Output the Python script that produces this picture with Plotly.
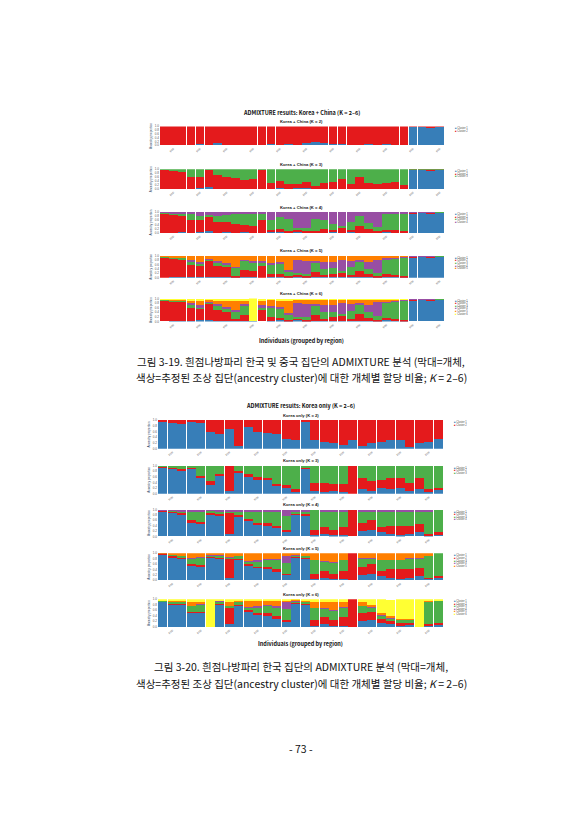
import plotly.graph_objects as go

W, H = 587, 830

# colours (bottom -> top stacking order)
cols = {'blue': '#377EB8', 'red': '#E41A1C', 'green': '#4DAF4A',
        'purple': '#984EA3', 'orange': '#FF7F00', 'yellow': '#FFFF33'}

# ---------- Korea + China (32 individuals shown, last 4 = China) ----------
kc_blue2 = [.02,.03,.02,.02,.05,.03,.1,.04,.02,.03,.02,.03,.05,.02,.08,.03,.1,.2,.12,.08,.05,.03,.04,.06,.03,.05,.02,.04,.95,.97,.93,.96]
kc_red2 = [.98,.97,.98,.98,.95,.97,.9,.96,.98,.97,.98,.97,.95,.98,.92,.97,.9,.8,.88,.92,.95,.97,.96,.94,.97,.95,.98,.96,.05,.03,.07,.04]

kc_blue3 = [0,.02,.03,.02,.05,.1,.02,.03,.02,.03,.02,0,.03,.05,.02,.08,.05,.03,.02,.03,.02,.03,.02,.02,.03,.02,.02,.02,.95,.96,.92,.97]
kc_red3 = [.95,.9,.85,.6,.55,.85,.7,.6,.55,.45,.5,.95,.3,.35,.25,.2,.3,.15,.3,.35,.5,.25,.6,.3,.25,.3,.35,.2,.03,.02,.05,.02]
kc_green3 = [.05,.08,.12,.38,.4,.05,.28,.37,.43,.52,.48,.05,.67,.6,.73,.72,.65,.82,.68,.62,.48,.72,.38,.68,.72,.68,.63,.78,.02,.02,.03,.01]

kc_blue4 = [0,.02,.03,.02,.05,.08,.02,.03,.02,.03,.02,0,.03,.05,.02,.05,.03,.03,.02,.03,.02,.03,.02,.02,.03,.05,.02,.02,.95,.96,.92,.97]
kc_red4 = [.95,.85,.8,.6,.55,.7,.5,.5,.4,.35,.3,.6,.1,.15,.05,.1,.05,.05,.15,.1,.2,.1,.3,.15,.05,.1,.1,.05,.02,.02,.04,.02]
kc_green4 = [.03,.05,.1,.3,.2,.1,.3,.35,.5,.55,.6,.3,.5,.55,.6,.1,.15,.6,.45,.3,.1,.4,.5,.3,.2,.75,.8,.85,.02,.01,.02,.01]
kc_purple4 = [.02,.08,.07,.08,.2,.12,.18,.12,.08,.07,.08,.1,.37,.25,.33,.75,.77,.32,.38,.57,.68,.47,.18,.53,.72,.1,.08,.08,.01,.01,.02,0]

kc_blue5 = [0,.02,.03,.02,.05,.05,.02,.03,.02,.03,.02,0,.03,.05,.02,.05,.03,.03,.02,.03,.02,.03,.02,.02,.03,.05,.02,.02,.95,.96,.92,.97]
kc_red5 = [.95,.85,.8,.55,.5,.7,.5,.45,.05,.3,.3,.55,.15,.1,.05,.1,.05,.25,.1,.15,.2,.1,.3,.15,.05,.1,.1,.05,.02,.02,.04,.02]
kc_green5 = [.03,.05,.1,.2,.1,.1,.2,.15,.4,.45,.4,.15,.4,.5,.2,.05,.1,.4,.3,.25,.1,.35,.4,.25,.15,.65,.75,.85,.02,.01,.02,.01]
kc_purple5 = [0,.02,0,.03,.05,.02,.05,.05,.03,.02,.05,.05,.1,.05,.1,.6,.6,.1,.3,.3,.5,.3,.1,.3,.6,.1,.05,.05,.01,.01,.02,0]
kc_orange5 = [.02,.06,.07,.2,.3,.13,.23,.32,.5,.2,.23,.25,.32,.3,.63,.2,.22,.22,.28,.27,.18,.22,.18,.28,.17,.1,.08,.03,0,0,0,0]

kc_blue6 = [0,.02,.03,.02,.05,.05,.02,.03,.02,.03,.02,0,.03,.05,.02,.05,.03,.03,.02,.03,.02,.03,.02,.02,.03,.05,.02,.02,.95,.96,.92,.97]
kc_red6 = [.95,.85,.8,.55,.5,.7,.5,.4,.1,.25,0,.5,.15,.1,.05,.1,.05,.25,.1,.15,.2,.1,.3,.15,.05,.1,.1,.05,.02,.02,.04,.02]
kc_green6 = [.02,.05,.1,.2,.1,.1,.2,.15,.35,.45,0,.15,.4,.45,.2,.05,.1,.4,.3,.25,.1,.35,.4,.25,.15,.65,.75,.85,.02,.01,.02,.01]
kc_purple6 = [0,.02,0,.03,.05,.02,.05,.05,.03,.02,0,.05,.1,.05,.1,.6,.6,.1,.3,.3,.5,.3,.1,.3,.6,.1,.05,.05,.01,.01,.02,0]
kc_orange6 = [.02,.04,.05,.15,.25,.1,.18,.3,.45,.15,0,.22,.28,.3,.58,.18,.2,.2,.26,.25,.16,.2,.16,.26,.15,.08,.06,.02,0,0,0,0]
kc_yellow6 = [.01,.02,.02,.05,.05,.03,.05,.07,.05,.1,1,.08,.04,.05,.05,.02,.02,.02,.02,.02,.02,.02,.02,.02,.02,.02,.02,.01,0,0,0,0]

# ---------- Korea only (30 individuals shown) ----------
k_blue2 = [.95,.9,.85,.95,.9,.6,.5,.7,.1,.75,.6,.55,.5,.35,.3,.92,.3,.25,.2,.15,.3,.1,.2,.25,.3,.3,.05,.2,.25,.35]
k_red2 = [.05,.1,.15,.05,.1,.4,.5,.3,.9,.25,.4,.45,.5,.65,.7,.08,.7,.75,.8,.85,.7,.9,.8,.75,.7,.7,.95,.8,.75,.65]

k_blue3 = [.95,.9,.85,.9,.6,.3,.65,.1,.75,.6,.5,.5,.3,.2,.1,.9,.1,.05,.1,.05,0,.15,.1,.2,.15,.2,.1,.15,.05,.15]
k_red3 = [.02,.05,.05,.05,.05,.15,.05,.9,.05,.1,.1,.05,.05,.1,.05,.02,.3,.35,.25,.3,1,.4,.35,.3,.4,.35,.3,.4,.1,.05]
k_green3 = [.03,.05,.1,.05,.35,.55,.3,0,.2,.3,.4,.45,.65,.7,.85,.08,.6,.6,.65,.65,0,.45,.55,.5,.45,.45,.6,.45,.85,.8]

k_blue4 = [.95,.9,.85,.55,.5,.85,.8,.1,.75,.6,.45,.4,.3,.2,.85,.8,.05,.1,.05,.05,0,.2,.25,.15,.1,.05,.1,.15,.05,.1]
k_red4 = [.02,.05,.05,.05,.05,.02,.05,.8,.05,.05,.05,.1,.1,.05,.02,.05,.2,.25,.2,.3,1,.3,.35,.2,.3,.35,.3,.3,.05,.05]
k_green4 = [.02,.03,.05,.35,.4,.1,.1,.05,.15,.3,.45,.45,.55,.5,.03,.1,.75,.6,.7,.6,0,.45,.35,.6,.55,.55,.55,.5,.85,.85]
k_purple4 = [.01,.02,.05,.05,.05,.03,.05,.05,.05,.05,.05,.05,.05,.25,.1,.05,0,.05,.05,.05,0,.05,.05,.05,.05,.05,.05,.05,.05,0]

k_blue5 = [.95,.85,.8,.55,.5,.85,.8,.1,.75,.55,.45,.4,.3,.2,.85,.8,.05,.1,.05,.05,0,.2,.25,.15,.1,.05,.1,.15,.05,.1]
k_red5 = [.02,.05,.05,.05,.05,.02,.05,.7,.05,.05,.05,.1,.1,.05,.02,.05,.2,.25,.2,.3,1,.3,.35,.2,.3,.35,.3,.3,.05,.05]
k_green5 = [.01,.05,.05,.2,.3,.05,.05,.05,.1,.1,.2,.25,.35,.4,.03,.05,.5,.35,.4,.4,0,.3,.2,.4,.35,.35,.4,.35,.8,.85]
k_purple5 = [.01,.01,.02,.02,.02,.02,.03,.02,.02,.02,.05,.05,.05,.25,.05,.02,0,.02,.02,.02,0,.02,.02,.02,.02,.02,.02,.02,.02,0]
k_orange5 = [.01,.04,.08,.18,.13,.06,.07,.13,.08,.28,.25,.2,.2,.1,.05,.08,.25,.28,.33,.23,0,.18,.18,.23,.23,.23,.18,.18,.08,0]

k_blue6 = [.9,.8,.8,.5,.5,0,.8,.1,.75,.55,.45,.4,.3,.2,.85,.8,.05,.1,.05,.05,0,.2,.25,.15,.1,.05,.1,0,.05,.1]
k_red6 = [.02,.05,.05,.05,.05,0,.05,.6,.05,.05,.05,.1,.1,.05,.02,.05,.2,.25,.2,.3,1,.3,.3,.15,.1,.1,.05,0,.05,.05]
k_green6 = [.01,.05,.05,.2,.25,0,.05,.05,.1,.1,.2,.25,.3,.4,.03,.05,.45,.3,.35,.35,0,.25,.15,.1,.1,.1,.1,0,.8,.8]
k_purple6 = [.01,.01,.02,.02,.02,0,.03,.02,.02,.02,.05,.05,.05,.25,.05,.02,0,.02,.02,.02,0,.02,.02,.02,.02,.02,.02,0,.02,0]
k_orange6 = [.01,.04,.03,.13,.08,0,.02,.13,.03,.23,.2,.15,.2,.05,.02,.03,.2,.23,.28,.18,0,.13,.08,.08,.06,.03,.03,0,.04,0]
k_yellow6 = [.05,.05,.05,.1,.1,1,.05,.1,.05,.05,.05,.05,.05,.05,.03,.05,.1,.1,.1,.1,0,.1,.2,.5,.6,.7,.7,1,.04,.05]

fig = go.Figure()

panels = [
    # (title, y_top_px, y_bot_px, x0_px, x1_px, [(colour, values), ...])
    ('Korea + China (K = 2)', 117, 136, 152, 436, [('blue', kc_blue2), ('red', kc_red2)]),
    ('Korea + China (K = 3)', 160, 180, 152, 436, [('blue', kc_blue3), ('red', kc_red3), ('green', kc_green3)]),
    ('Korea + China (K = 4)', 203, 224, 152, 436, [('blue', kc_blue4), ('red', kc_red4), ('green', kc_green4), ('purple', kc_purple4)]),
    ('Korea + China (K = 5)', 247, 269, 152, 436, [('blue', kc_blue5), ('red', kc_red5), ('green', kc_green5), ('purple', kc_purple5), ('orange', kc_orange5)]),
    ('Korea + China (K = 6)', 290, 313, 152, 436, [('blue', kc_blue6), ('red', kc_red6), ('green', kc_green6), ('purple', kc_purple6), ('orange', kc_orange6), ('yellow', kc_yellow6)]),
    ('Korea only (K = 2)', 412, 441, 150, 435, [('blue', k_blue2), ('red', k_red2)]),
    ('Korea only (K = 3)', 458, 486, 150, 435, [('blue', k_blue3), ('red', k_red3), ('green', k_green3)]),
    ('Korea only (K = 4)', 502, 529, 150, 435, [('blue', k_blue4), ('red', k_red4), ('green', k_green4), ('purple', k_purple4)]),
    ('Korea only (K = 5)', 546, 573, 150, 435, [('blue', k_blue5), ('red', k_red5), ('green', k_green5), ('purple', k_purple5), ('orange', k_orange5)]),
    ('Korea only (K = 6)', 592, 620, 150, 435, [('blue', k_blue6), ('red', k_red6), ('green', k_green6), ('purple', k_purple6), ('orange', k_orange6), ('yellow', k_yellow6)]),
]

px_x = lambda v: v / W
px_y = lambda v: 1 - v / H

anns = []
layout = {}
for i, (title, yt, yb, x0, x1, comps) in enumerate(panels):
    n = i + 1
    xa = 'x' if n == 1 else f'x{n}'
    ya = 'y' if n == 1 else f'y{n}'
    xs = list(range(len(comps[0][1])))
    for cname, vals in comps:
        fig.add_trace(go.Bar(x=xs, y=vals, marker=dict(color=cols[cname], line=dict(width=0)),
                             xaxis=xa, yaxis=ya, showlegend=False))
    layout['xaxis' if n == 1 else f'xaxis{n}'] = dict(
        domain=[px_x(x0), px_x(x1)], anchor=ya, range=[-0.5, len(xs) - 0.5],
        tickvals=xs[1::3], ticktext=['pop'] * len(xs[1::3]), tickangle=-40,
        tickfont=dict(size=3, color='#555'), showgrid=False, zeroline=False, ticks='')
    layout['yaxis' if n == 1 else f'yaxis{n}'] = dict(
        domain=[px_y(yb), px_y(yt)], anchor=xa, range=[0, 1],
        tickvals=[0, .2, .4, .6, .8, 1], ticktext=['0.0', '0.2', '0.4', '0.6', '0.8', '1.0'],
        tickfont=dict(size=3, color='#555'), showgrid=False, zeroline=False,
        title=dict(text='Ancestry proportion', font=dict(size=3), standoff=2))
    anns.append(dict(text=f'<b>{title}</b>', x=px_x((x0 + x1) / 2), y=px_y(yt - 0.5), xref='paper', yref='paper',
                     xanchor='center', yanchor='bottom', showarrow=False, font=dict(size=4.2, color='#222')))
    # small legend to the right
    for j, (cname, _) in enumerate(comps):
        anns.append(dict(text=f'<span style="color:{cols[cname]}">■</span> Cluster {j + 1}',
                         x=px_x(x1 + 9), y=px_y(yt + 2 + j * 2.6), xref='paper', yref='paper',
                         xanchor='left', yanchor='middle', showarrow=False, font=dict(size=2.6, color='#444')))

texts = [
    ('<b>ADMIXTURE results: Korea + China (K = 2–6)</b>', 294, 103, 5.5),
    ('<b>Individuals (grouped by region)</b>', 294, 333, 5.5),
    ('<b>ADMIXTURE results: Korea only (K = 2–6)</b>', 292, 398, 5.5),
    ('<b>Individuals (grouped by region)</b>', 292, 637, 5.5),
    ('그림 3-19. 흰점나방파리 한국 및 중국 집단의 ADMIXTURE 분석 (막대=개체,', 293, 353, 10.5),
    ('색상=추정된 조상 집단(ancestry cluster)에 대한 개체별 할당 비율; <i>K</i> = 2–6)', 293, 369, 10.5),
    ('그림 3-20. 흰점나방파리 한국 집단의 ADMIXTURE 분석 (막대=개체,', 293, 660, 10.5),
    ('색상=추정된 조상 집단(ancestry cluster)에 대한 개체별 할당 비율; <i>K</i> = 2–6)', 293, 677, 10.5),
    ('- 73 -', 293, 742, 10.5),
]
for t, x, y, s in texts:
    anns.append(dict(text=t, x=px_x(x), y=px_y(y), xref='paper', yref='paper', xanchor='center',
                     yanchor='middle', showarrow=False,
                     font=dict(size=s, color='#111', family='Noto Sans CJK KR')))

fig.update_layout(barmode='stack', bargap=0.03, width=W, height=H,
                  margin=dict(l=0, r=0, t=0, b=0), paper_bgcolor='white', plot_bgcolor='white',
                  font=dict(family='Liberation Sans'), annotations=anns, **layout)

fig.write_html("out.html")
